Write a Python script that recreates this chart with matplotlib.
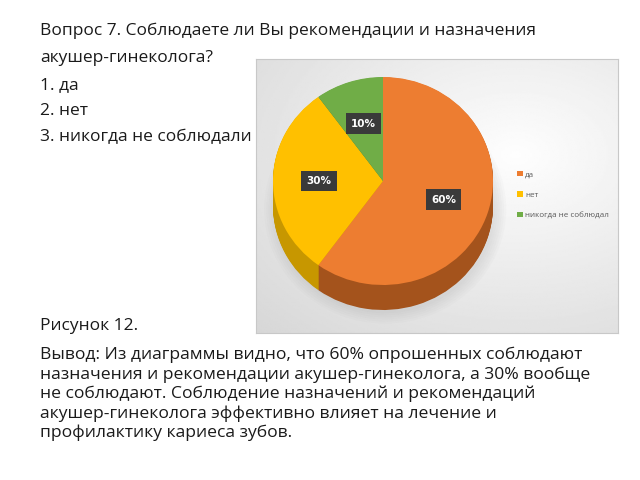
import numpy as np
import matplotlib
matplotlib.use("Agg")
import matplotlib.pyplot as plt
from matplotlib.patches import Ellipse

categories = ["да", "нет", "никогда не соблюдал"]
values = [60, 30, 10]
colors = ["#ED7D31", "#FFC000", "#70AD47"]
side_colors = ["#A4531C", "#C79700", "#4E7A31"]

title_lines = ["Вопрос 7. Соблюдаете ли Вы рекомендации и назначения",
               "акушер-гинеколога?", "1. да", "2. нет", "3. никогда не соблюдали"]
caption = "Рисунок 12."
conclusion = ["Вывод: Из диаграммы видно, что 60% опрошенных соблюдают",
              "назначения и рекомендации акушер-гинеколога, а 30% вообще",
              "не соблюдают. Соблюдение назначений и рекомендаций",
              "акушер-гинеколога эффективно влияет на лечение и",
              "профилактику кариеса зубов."]

plt.rcParams['font.family'] = ['Open Sans', 'DejaVu Sans']
W, H = 640, 480
fig = plt.figure(figsize=(6.4, 4.8), dpi=100)
fig.patch.set_facecolor("white")

def fx(px):
    return px / W

def fy(py):
    return 1 - py / H

# slide text
ys = [31, 58, 85, 111, 137]
for t, y in zip(title_lines, ys):
    fig.text(fx(40), fy(y), t, fontsize=12.5, color="#1a1a1a", va="center", ha="left")
fig.text(fx(40), fy(326), caption, fontsize=12.5, color="#1a1a1a", va="center", ha="left")
for i, t in enumerate(conclusion):
    fig.text(fx(40), fy(355 + i * 19.5), t, fontsize=12.6, color="#1a1a1a", va="center", ha="left")

# chart panel
px0, py0, px1, py1 = 256, 59, 618, 333
pw, ph = px1 - px0, py1 - py0
axp = fig.add_axes([fx(px0), fy(py1), pw / W, ph / H])
gx, gy = np.meshgrid(np.linspace(0, 1, 200), np.linspace(0, 1, 200))
d = np.sqrt(((gx - 0.72) / 1.0) ** 2 + ((gy - 0.35) / 0.9) ** 2)
grad = 0.995 - 0.15 * np.clip(d, 0, 1.2)
axp.imshow(grad, cmap="gray", vmin=0, vmax=1, extent=[0, 1, 0, 1], aspect="auto", origin="upper")
axp.set_xlim(0, 1); axp.set_ylim(0, 1)
axp.set_xticks([]); axp.set_yticks([])
for s in axp.spines.values():
    s.set_color("#c8c8c8"); s.set_linewidth(0.8)

# pie axes (elliptical)
ax = fig.add_axes([fx(px0), fy(py1), pw / W, ph / H])
ax.patch.set_alpha(0)
cx, cy, rx, ry, depth = 383, 181, 110, 104, 25

# soft shadow
for k in range(6):
    ax.add_patch(Ellipse((0.02, -depth / ry - 0.03), 2.0 + 0.04 * k, 2.0 + 0.04 * k,
                         facecolor="#888888", alpha=0.03, edgecolor="none"))

n_layers = 30
for k in np.linspace(depth / ry, 0.005, n_layers):
    ax.pie(values, colors=side_colors, startangle=90, counterclock=False,
           center=(0, -k), wedgeprops=dict(linewidth=0))

wedges, texts, autotexts = ax.pie(values, colors=colors, startangle=90, counterclock=False,
                                   autopct="%d%%", pctdistance=0.58,
                                   wedgeprops=dict(linewidth=0),
                                   textprops=dict(color="white", fontsize=7.5, fontweight="bold",
                                                  family=["Liberation Sans Narrow", "DejaVu Sans"]))
for t in autotexts:
    t.set_bbox(dict(boxstyle="square,pad=0.5", facecolor="#3a3a3a", edgecolor="none"))

ax.set_aspect("auto")
xl = -(cx - px0) / rx
ax.set_xlim(xl, xl + pw / rx)
yt = (cy - py0) / ry
ax.set_ylim(yt - ph / ry, yt)
ax.axis("off")

# legend
ax.legend(wedges, categories, loc="center left", bbox_to_anchor=((514 - px0) / pw, 1 - (195 - py0) / ph),
          frameon=False, labelcolor="#595959", handlelength=0.7, handleheight=0.7,
          handletextpad=0.3, labelspacing=1.6, borderaxespad=0,
          prop=dict(family=["Open Sans", "DejaVu Sans"], size=5.8))

fig.savefig("out.png", dpi=100, facecolor="white")
